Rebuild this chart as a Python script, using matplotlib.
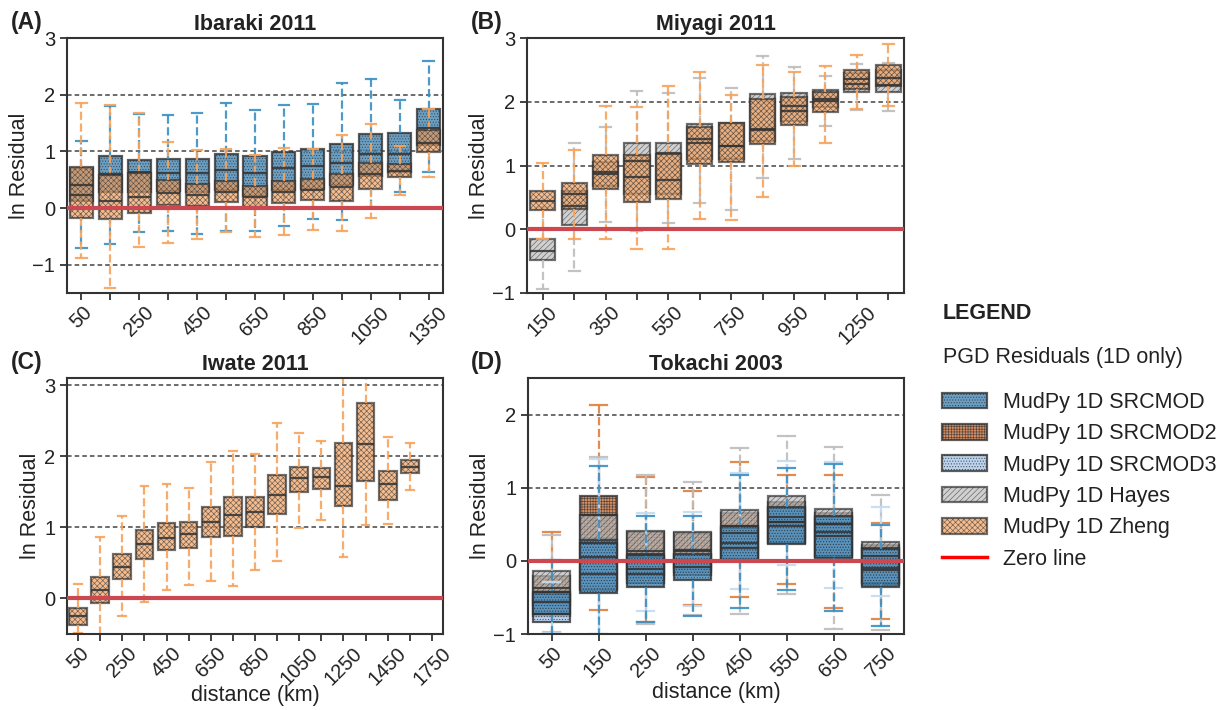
import matplotlib.pyplot as plt
from matplotlib.patches import Patch
from matplotlib.lines import Line2D

plt.rcParams['font.family'] = ['Liberation Sans', 'DejaVu Sans']
plt.rcParams['hatch.linewidth'] = 0.45
plt.rcParams['axes.linewidth'] = 1.5
plt.rcParams['axes.edgecolor'] = '#333333'
plt.rcParams['text.color'] = '#222222'
plt.rcParams['axes.labelcolor'] = '#222222'
plt.rcParams['xtick.color'] = '#333333'
plt.rcParams['ytick.color'] = '#333333'
plt.rcParams['xtick.labelcolor'] = '#222222'
plt.rcParams['ytick.labelcolor'] = '#222222'

# ---- binned PGD residual stats: (whisker low, q1, median, q3, whisker high) ----
ibaraki_dist = [50, 150, 250, 350, 450, 550, 650, 750, 850, 950, 1050, 1250, 1350]
ibaraki_srcmod = [
    (-0.71, 0.12, 0.40, 0.71, 1.19), (-0.64, 0.28, 0.60, 0.91, 1.80),
    (-0.42, 0.28, 0.63, 0.85, 1.66), (-0.41, 0.30, 0.62, 0.87, 1.64),
    (-0.45, 0.28, 0.62, 0.87, 1.68), (-0.40, 0.31, 0.67, 0.96, 1.85),
    (-0.41, 0.22, 0.61, 0.92, 1.73), (-0.32, 0.31, 0.70, 0.98, 1.82),
    (-0.20, 0.34, 0.74, 1.04, 1.83), (-0.22, 0.40, 0.79, 1.13, 2.20),
    (0.02, 0.57, 0.95, 1.30, 2.28), (0.29, 0.64, 0.95, 1.32, 1.90),
    (0.63, 1.12, 1.42, 1.74, 2.60),
]
ibaraki_zheng = [
    (-0.89, -0.17, 0.23, 0.72, 1.86), (-1.42, -0.20, 0.13, 0.59, 1.82),
    (-0.68, -0.09, 0.20, 0.62, 1.68), (-0.61, 0.05, 0.27, 0.49, 1.16),
    (-0.55, 0.03, 0.23, 0.43, 1.02), (-0.43, 0.11, 0.29, 0.48, 1.04),
    (-0.52, 0.02, 0.20, 0.39, 0.94), (-0.48, 0.09, 0.28, 0.48, 1.06),
    (-0.39, 0.15, 0.32, 0.51, 1.05), (-0.41, 0.12, 0.37, 0.60, 1.29),
    (-0.18, 0.34, 0.60, 0.80, 1.48), (0.23, 0.54, 0.65, 0.77, 1.09),
    (0.54, 0.98, 1.14, 1.38, 1.75),
]

miyagi_dist = [150, 250, 350, 450, 550, 650, 750, 850, 950, 1050, 1250, 1350]
miyagi_hayes = [
    (-0.94, -0.48, -0.34, -0.15, 0.35), (-0.66, 0.07, 0.37, 0.60, 1.36),
    (0.12, 0.68, 0.86, 1.05, 1.61), (-0.03, 0.55, 1.07, 1.35, 2.17),
    (0.10, 0.55, 1.19, 1.36, 2.13), (0.41, 1.10, 1.41, 1.65, 2.38),
    (0.30, 1.10, 1.30, 1.66, 2.21), (0.80, 1.38, 1.58, 2.12, 2.72),
    (1.10, 1.70, 1.93, 2.13, 2.54), (1.62, 1.92, 2.05, 2.18, 2.40),
    (1.87, 2.16, 2.28, 2.45, 2.59), (1.86, 2.16, 2.27, 2.50, 2.61),
]
miyagi_zheng = [
    (-0.16, 0.30, 0.45, 0.60, 1.04), (-0.15, 0.31, 0.55, 0.72, 1.25),
    (-0.15, 0.63, 0.90, 1.16, 1.94), (-0.31, 0.43, 0.82, 1.16, 1.92),
    (-0.31, 0.47, 0.78, 1.18, 2.25), (0.16, 1.02, 1.35, 1.61, 2.46),
    (0.14, 1.05, 1.30, 1.66, 2.10), (0.51, 1.34, 1.56, 2.05, 2.58),
    (1.00, 1.63, 1.85, 2.08, 2.46), (1.36, 1.84, 2.01, 2.16, 2.56),
    (1.88, 2.20, 2.36, 2.50, 2.74), (1.93, 2.25, 2.38, 2.57, 2.91),
]

iwate_dist = [50, 150, 250, 350, 450, 550, 650, 750, 850, 950, 1050, 1150,
              1250, 1350, 1450, 1550, 1750]
iwate_zheng = [
    (-0.48, -0.38, -0.25, -0.14, 0.20), (-0.60, -0.07, 0.12, 0.30, 0.86),
    (-0.24, 0.28, 0.44, 0.63, 1.16), (-0.05, 0.55, 0.76, 0.96, 1.58),
    (0.12, 0.68, 0.85, 1.06, 1.61), (0.19, 0.71, 0.90, 1.07, 1.56),
    (0.24, 0.87, 1.08, 1.29, 1.92), (0.17, 0.88, 1.18, 1.42, 2.07),
    (0.40, 1.01, 1.22, 1.42, 2.03), (0.52, 1.19, 1.46, 1.73, 2.47),
    (0.99, 1.50, 1.70, 1.85, 2.33), (1.11, 1.54, 1.71, 1.84, 2.21),
    (0.58, 1.30, 1.58, 2.18, 3.30), (1.03, 1.65, 2.17, 2.75, 3.30),
    (1.05, 1.38, 1.61, 1.79, 2.27), (1.53, 1.76, 1.85, 1.95, 2.19),
    None,
]

tokachi_dist = [50, 150, 250, 350, 450, 550, 650, 750]
tokachi_srcmod = [
    (-1.05, -0.72, -0.56, -0.42, 0.01), (-1.10, -0.44, -0.18, 0.29, 1.30),
    (-0.83, -0.36, -0.18, 0.08, 0.62), (-0.75, -0.26, -0.08, 0.10, 0.62),
    (-0.64, 0.00, 0.24, 0.47, 1.18), (-0.40, 0.23, 0.48, 0.74, 1.27),
    (-0.69, 0.04, 0.34, 0.61, 1.32), (-0.89, -0.36, -0.10, 0.16, 0.49),
]
tokachi_srcmod2 = [
    (-1.00, -0.60, -0.43, -0.21, 0.39), (-0.67, 0.30, 0.63, 0.89, 2.13),
    (-0.84, -0.25, 0.09, 0.40, 1.15), (-0.61, -0.15, 0.13, 0.38, 0.96),
    (-0.50, 0.02, 0.38, 0.65, 1.35), (-0.31, 0.25, 0.53, 0.80, 1.18),
    (-0.64, 0.05, 0.50, 0.65, 1.18), (-0.80, -0.33, 0.00, 0.22, 0.52),
]
tokachi_srcmod3 = [
    (-0.98, -0.84, -0.72, -0.45, -0.29), (-1.00, -0.40, 0.05, 0.25, 1.39),
    (-0.68, -0.30, -0.11, 0.05, 0.65), (-0.62, -0.20, 0.00, 0.08, 0.67),
    (-0.38, 0.02, 0.17, 0.45, 1.20), (-0.05, 0.25, 0.53, 0.72, 1.36),
    (-0.37, 0.06, 0.40, 0.60, 1.35), (-0.48, -0.30, -0.12, 0.18, 0.73),
]
tokachi_hayes = [
    (-0.97, -0.75, -0.37, -0.14, 0.36), (-1.00, -0.37, 0.24, 0.63, 1.42),
    (-0.87, -0.20, 0.13, 0.41, 1.18), (-0.74, -0.10, 0.15, 0.39, 1.08),
    (-0.73, 0.05, 0.47, 0.70, 1.54), (-0.45, 0.30, 0.60, 0.88, 1.71),
    (-0.93, 0.05, 0.50, 0.71, 1.55), (-0.94, -0.30, 0.07, 0.26, 0.90),
]

# ---- per-model styling ----
STYLE = {
    'SRCMOD':  dict(face='#4587b5', whisk='#3a8fc4', hatch='......', alpha=0.8),
    'SRCMOD2': dict(face='#c8703a', whisk='#e07e3c', hatch='++++++', alpha=0.8),
    'SRCMOD3': dict(face='#aac9ea', whisk='#c4dbf2', hatch='......', alpha=0.8),
    'Hayes':   dict(face='#bdbdbd', whisk='#bdbdbd', hatch='//////', alpha=0.7),
    'Zheng':   dict(face='#f0a060', whisk='#f7a35c', hatch='xxxxxx', alpha=0.7),
}
EDGE = '#333333'


def draw_model(ax, rows, model):
    st = STYLE[model]
    stats, pos = [], []
    for i, r in enumerate(rows):
        if r is None:
            continue
        lo, q1, med, q3, hi = r
        stats.append(dict(whislo=lo, q1=q1, med=med, q3=q3, whishi=hi, fliers=[]))
        pos.append(i)
    ax.bxp(stats, positions=pos, widths=0.8, capwidths=0.35, patch_artist=True,
           showfliers=False,
           boxprops=dict(facecolor=st['face'], edgecolor=EDGE, hatch=st['hatch'],
                         alpha=st['alpha'], linewidth=1.6),
           medianprops=dict(color=EDGE, linewidth=1.6, alpha=0.85),
           whiskerprops=dict(color=st['whisk'], linestyle='--', linewidth=1.6, alpha=0.9),
           capprops=dict(color=st['whisk'], linewidth=1.6, alpha=0.9))


def setup(ax, dist, title, ylim, yticks, hlines, xlabel=None, every=2):
    n = len(dist)
    ax.set_xlim(-0.5, n - 0.5)
    ax.set_ylim(*ylim)
    ax.set_yticks(yticks)
    ax.set_xticks(range(n))
    ax.set_xticklabels([str(d) if i % every == 0 else '' for i, d in enumerate(dist)],
                       rotation=45)
    for v in hlines:
        ax.axhline(v, color='#444444', ls=(0, (3, 2)), lw=1.1, zorder=1.5)
    ax.axhline(0, color='#cc4850', lw=3, zorder=6)
    ax.tick_params(axis='both', direction='out', length=5, width=1.3, labelsize=14.5)
    ax.tick_params(axis='x', pad=2)
    ax.set_title(title, fontweight='bold', fontsize=15.5, pad=6)
    ax.set_ylabel('ln Residual', fontsize=15.5, labelpad=2)
    if xlabel is not None:
        ax.set_xlabel('distance (km)', fontsize=15.5, labelpad=xlabel)


W, H = 1228, 710
fig = plt.figure(figsize=(W / 100, H / 100), dpi=100)


def axes_px(x0, y0, x1, y1):
    return fig.add_axes([x0 / W, 1 - y1 / H, (x1 - x0) / W, (y1 - y0) / H])


axA = axes_px(67, 38, 443, 293)
axB = axes_px(527, 38, 904, 293)
axC = axes_px(67, 378, 443, 634)
axD = axes_px(528, 378, 904, 634)

# (A) Ibaraki
draw_model(axA, ibaraki_srcmod, 'SRCMOD')
draw_model(axA, ibaraki_zheng, 'Zheng')
setup(axA, ibaraki_dist, 'Ibaraki 2011', (-1.5, 3), [-1, 0, 1, 2, 3], [-1, 1, 2])

# (B) Miyagi
draw_model(axB, miyagi_hayes, 'Hayes')
draw_model(axB, miyagi_zheng, 'Zheng')
setup(axB, miyagi_dist, 'Miyagi 2011', (-1, 3), [-1, 0, 1, 2, 3], [1, 2])

# (C) Iwate
draw_model(axC, iwate_zheng, 'Zheng')
setup(axC, iwate_dist, 'Iwate 2011', (-0.5, 3.1), [0, 1, 2, 3], [1, 2, 3], xlabel=-3)

# (D) Tokachi
draw_model(axD, tokachi_srcmod2, 'SRCMOD2')
draw_model(axD, tokachi_hayes, 'Hayes')
draw_model(axD, tokachi_srcmod3, 'SRCMOD3')
draw_model(axD, tokachi_srcmod, 'SRCMOD')
setup(axD, tokachi_dist, 'Tokachi 2003', (-1, 2.5), [-1, 0, 1, 2], [1, 2],
      xlabel=1, every=1)

for lab, (x, y) in {'(A)': (11, 22), '(B)': (471, 22),
                    '(C)': (11, 363), '(D)': (471, 363)}.items():
    fig.text(x / W, 1 - y / H, lab, fontweight='bold', fontsize=16.5, va='center')

# legend block
fig.text(943 / W, 1 - 313 / H, 'LEGEND', fontweight='bold', fontsize=15.5, va='center')
fig.text(943 / W, 1 - 357 / H, 'PGD Residuals (1D only)', fontsize=15.5, va='center')

handles, labels = [], []
for model in ['SRCMOD', 'SRCMOD2', 'SRCMOD3', 'Hayes', 'Zheng']:
    st = STYLE[model]
    handles.append(Patch(facecolor=st['face'], edgecolor=EDGE, hatch=st['hatch'],
                         alpha=st['alpha'], linewidth=1.6))
    labels.append('MudPy 1D ' + model)
handles.append(Line2D([], [], color='red', lw=2.5))
labels.append('Zero line')
fig.legend(handles, labels, loc='upper left', bbox_to_anchor=(942 / W, 1 - 392 / H),
           frameon=False, fontsize=15.5, handlelength=2.1, handleheight=0.75,
           handletextpad=0.75, labelspacing=0.48, borderpad=0, borderaxespad=0)

fig.savefig('out.png', dpi=100)
